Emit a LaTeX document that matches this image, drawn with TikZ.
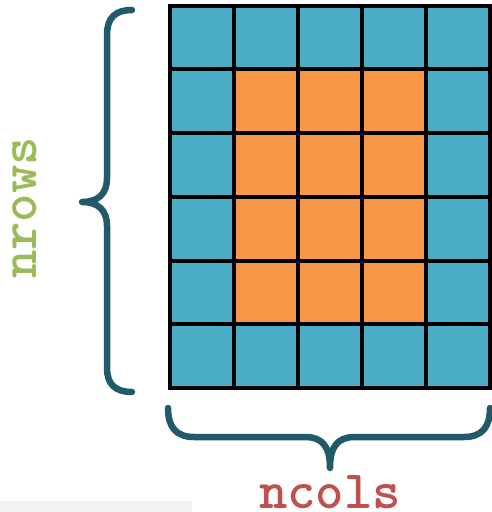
\documentclass[tikz,border=0pt]{standalone}
\usepackage{fontspec}
\definecolor{cellblue}{HTML}{4BACC6}
\definecolor{cellorange}{HTML}{F79646}
\definecolor{bracecol}{HTML}{215A6A}
\definecolor{rowgreen}{HTML}{9BBB59}
\definecolor{colred}{HTML}{C0504D}
\definecolor{panelgrey}{HTML}{F2F2F2}
\tikzset{
  cell/.style={draw=black, line width=4pt, minimum width=64pt, minimum height=63.75pt, inner sep=0pt, outer sep=0pt},
  bracepath/.style={draw=bracecol, line width=6.5pt, line cap=round, line join=round},
  lbl/.style={font=\ttfamily\bfseries\fontsize{54}{56}\selectfont, inner sep=0pt}
}
\begin{document}
\begin{tikzpicture}[x=1pt,y=-1pt]
\useasboundingbox (0,0) rectangle (491,512);
\fill[panelgrey] (0,501) rectangle (192,512);
% cells
\foreach \c in {0,...,4}{
  \foreach \r in {0,...,5}{
    \pgfmathsetmacro{\inner}{(\c>0 && \c<4 && \r>0 && \r<5) ? 1 : 0}
    \ifdim\inner pt>0.5pt
      \node[cell, fill=cellorange] (c\c r\r) at ({169.5+64*\c+32},{5.5+63.75*\r+31.875}) {};
    \else
      \node[cell, fill=cellblue] (c\c r\r) at ({169.5+64*\c+32},{5.5+63.75*\r+31.875}) {};
    \fi
  }
}
% redraw grid lines on top
\foreach \c in {0,...,4}{
  \foreach \r in {0,...,5}{
    \draw[black, line width=4pt] (c\c r\r.north west) rectangle (c\c r\r.south east);
  }
}
% left brace
\coordinate (lt) at (132,10);
\coordinate (lb) at (132,392);
\coordinate (ltip) at (82,202);
\draw[bracepath] (lt) .. controls (115,10) and (107,18) .. (107,35)
  -- (107,178) .. controls (107,194) and (98,202) .. (ltip)
  .. controls (98,202) and (107,210) .. (107,226)
  -- (107,368) .. controls (107,384) and (115,392) .. (lb);
% bottom brace
\coordinate (bl) at (168,408);
\coordinate (br) at (490,408);
\coordinate (btip) at (330,468);
\draw[bracepath] (bl) .. controls (168,427) and (176,437) .. (194,437)
  -- (305,437) .. controls (322,437) and (330,446) .. (btip)
  .. controls (330,446) and (338,437) .. (355,437)
  -- (464,437) .. controls (482,437) and (490,427) .. (br);
% labels
\node[lbl, text=rowgreen, rotate=90, text height=23pt, text depth=0pt] (nrows) at (24.5,208) {nrows};
\node[lbl, text=colred, anchor=base, text depth=0pt] (ncols) at (330,508) {ncols};
\end{tikzpicture}
\end{document}
